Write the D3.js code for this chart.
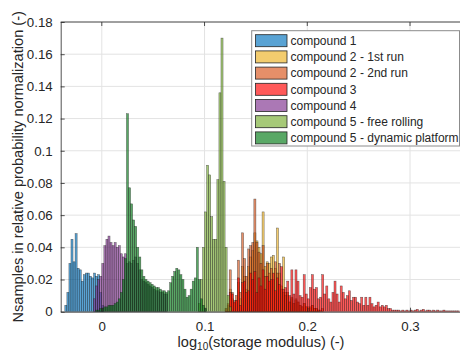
<!DOCTYPE html>
<html><head><meta charset="utf-8">
<script src="https://cdn.jsdelivr.net/npm/d3@7"></script>
<style>
html,body{margin:0;padding:0;background:#fff;}
svg{display:block;font-family:"Liberation Sans",Arial,Helvetica,sans-serif;}
</style></head>
<body><svg id="c" width="460" height="353"></svg>
<script>
// ---- data (histogram bins, width 0.002 in log10 units) ----
const BIN_WIDTH = 0.002;
const seriesNames = ["compound 1","compound 2 - 1st run","compound 2 - 2nd run","compound 3","compound 4","compound 5 - free rolling","compound 5 - dynamic platform"];
const seriesColors = ["#0072bd","#edb120","#d95319","#ff0000","#7e2f8e","#77ac30","#007a14"];

const compound1Start = -0.036;
const compound1 = [0.004,0.012,0.030,0.045,0.031,0.0485,0.027,0.026,0.019,0.023,0.024,0.024,0.022,0.021,0.024,0.022,0.023,0.012,0.004];

const compound2run1Start = 0.120;
const compound2run1 = [0.001,0.002,0.014,0.008,0.005,0.007,0.018,0.008,0.028,0.022,0.014,0.028,0.034,0.038,0.049,0.044,0.040,0.036,0.062,0.028,0.031,0.030,0.034,0.035,0.027,0.052,0.024,0.016,0.034,0.012,0.010,0.006,0.008,0.005,0.007,0.006,0.004,0.003,0.005,0.003,0.003,0.002,0.004,0.002,0.002,0.001];

const compound2run2Start = 0.120;
const compound2run2 = [0.002,0.004,0.026,0.012,0.007,0.010,0.032,0.012,0.049,0.033,0.022,0.039,0.041,0.043,0.070,0.043,0.037,0.030,0.041,0.022,0.030,0.024,0.027,0.020,0.031,0.024,0.030,0.014,0.012,0.010,0.012,0.006,0.009,0.005,0.008,0.006,0.004,0.003,0.005,0.003,0.002,0.003,0.004,0.002,0.002,0.001,0.001,0.002];

const compound3Start = 0.120;
const compound3 = [0.002,0.005,0.012,0.011,0.006,0.007,0.021,0.004,0.018,0.019,0.012,0.013,0.024,0.020,0.025,0.012,0.021,0.016,0.026,0.014,
0.022,0.019,0.020,0.024,0.013,0.021,0.017,0.028,0.014,0.015,0.019,0.010,0.026,0.011,0.026,0.019,0.010,0.009,0.023,0.011,
0.008,0.015,0.023,0.014,0.015,0.008,0.009,0.023,0.011,0.016,0.008,0.006,0.012,0.019,0.011,0.006,0.016,0.012,0.008,0.010,
0.013,0.007,0.009,0.009,0.006,0.005,0.009,0.004,0.009,0.004,0.009,0.005,0.003,0.004,0.006,0.003,0.004,0.003,0.004,0.002,
0.002,0.001,0.001,0.001,0.001,0.0005,0.001,0.0005,0.001,0.0005,0.001,0.0005,0.001,0.0015,0.0005,0.001,0.0015,0.0005,0.001,0.001,
0.0005,0.001,0.0005,0.001,0.0005,0.0005,0.001,0.0005,0.0005,0.0005,0.0005,0.0005,0.0005,0.0005];

const compound4Start = -0.008;
const compound4 = [0.008,0.016,0.020,0.022,0.030,0.041,0.045,0.047,0.043,0.041,0.043,0.040,0.041,0.036,0.034,0.036,0.030,0.031,0.030,0.032,
0.034,0.030,0.026,0.020,0.019,0.018,0.017,0.016,0.015,0.014,0.013,0.013,0.012,0.012,0.011,0.011];

const compound5freeStart = 0.094;
const compound5free = [0.005,0.020,0.040,0.062,0.091,0.085,0.059,0.045,0.045,0.082,0.136,0.170,0.081,0.040,0.010,0.003];

const compound5dynStart = -0.006;
const compound5dyn = [0.001,0.001,0.002,0.002,0.003,0.003,0.004,0.004,0.004,0.005,0.006,0.008,0.012,0.020,0.033,0.123,0.077,0.067,0.057,0.053,
0.040,0.034,0.026,0.022,0.020,0.019,0.018,0.017,0.016,0.015,0.015,0.014,0.013,0.013,0.012,0.013,0.018,0.022,0.025,0.027,
0.026,0.023,0.020,0.014,0.009,0.010,0.014,0.019,0.021,0.040,0.020,0.008,0.004,0.002];

const xTicks = [0, 0.1, 0.2, 0.3];
const xTickLabels = ["0","0.1","0.2","0.3"];
const yTicks = [0,0.02,0.04,0.06,0.08,0.1,0.12,0.14,0.16,0.18];
const yTickLabels = ["0","0.02","0.04","0.06","0.08","0.1","0.12","0.14","0.16","0.18"];

const seriesData = [
  [compound1Start, compound1],
  [compound2run1Start, compound2run1],
  [compound2run2Start, compound2run2],
  [compound3Start, compound3],
  [compound4Start, compound4],
  [compound5freeStart, compound5free],
  [compound5dynStart, compound5dyn]
];

// ---- layout ----
const L = 60.7, R = 461.4, T = 22, B = 311.7;
const svg = d3.select("#c");
const x = d3.scaleLinear().domain([-0.04, 0.35]).range([L, R]);
const y = d3.scaleLinear().domain([0, 0.18]).range([B, T]);

// grid
const grid = svg.append("g");
grid.selectAll(".gx").data(xTicks).join("line")
  .attr("x1", d => x(d)).attr("x2", d => x(d)).attr("y1", T).attr("y2", B)
  .attr("stroke", "#e3e3e3").attr("stroke-width", 1);
grid.selectAll(".gy").data(yTicks).join("line")
  .attr("x1", L).attr("x2", R).attr("y1", d => y(d)).attr("y2", d => y(d))
  .attr("stroke", "#e3e3e3").attr("stroke-width", 1);

// bars
svg.append("clipPath").attr("id","clip").append("rect")
  .attr("x", L).attr("y", T).attr("width", R - L).attr("height", B - T);
const barsG = svg.append("g").attr("clip-path","url(#clip)");
seriesData.forEach(([start, vals], i) => {
  const bins = vals.map((v, k) => ({x0: start + k * BIN_WIDTH, v}));
  barsG.append("g").selectAll("rect").data(bins).join("rect")
    .attr("x", d => x(d.x0))
    .attr("width", d => x(d.x0 + BIN_WIDTH) - x(d.x0))
    .attr("y", d => y(d.v))
    .attr("height", d => y(0) - y(d.v))
    .attr("fill", seriesColors[i]).attr("fill-opacity", 0.65)
    .attr("stroke", "#1a1a1a").attr("stroke-opacity", 0.65).attr("stroke-width", 0.5);
});

// axes
const axisColor = "#262626";
const xAxis = d3.axisBottom(x).tickValues(xTicks).tickFormat((d, i) => xTickLabels[i]).tickSizeInner(-4).tickSizeOuter(0).tickPadding(10);
const gx = svg.append("g").attr("transform", `translate(0,${B})`).call(xAxis);
const yAxis = d3.axisLeft(y).tickValues(yTicks).tickFormat((d, i) => yTickLabels[i]).tickSizeInner(-4).tickSizeOuter(0).tickPadding(8);
const gy = svg.append("g").attr("transform", `translate(${L},0)`).call(yAxis);
[gx, gy].forEach(g => {
  g.select(".domain").attr("stroke", axisColor).attr("stroke-width", 0.8);
  g.selectAll(".tick line").attr("stroke", axisColor).attr("stroke-width", 0.8);
  g.selectAll("text").attr("fill", axisColor).style("font-size", "13.3px").style("font-family", "'Liberation Sans',Arial,sans-serif");
});
// top box line with inward ticks
svg.append("line").attr("x1", L).attr("x2", R).attr("y1", T).attr("y2", T).attr("stroke", axisColor).attr("stroke-width", 0.8);
svg.selectAll(".tt").data(xTicks).join("line")
  .attr("x1", d => x(d)).attr("x2", d => x(d)).attr("y1", T).attr("y2", T + 4)
  .attr("stroke", axisColor).attr("stroke-width", 0.8);

// axis labels
const xl = svg.append("text").attr("x", (L + R) / 2).attr("y", 346.5).attr("text-anchor", "middle")
  .attr("fill", axisColor).style("font-size", "14.6px");
xl.append("tspan").text("log");
xl.append("tspan").attr("dy", 3.5).style("font-size", "10px").text("10");
xl.append("tspan").attr("dy", -3.5).text("(storage modulus) (-)");

svg.append("text").attr("transform", `translate(23,${(T + B) / 2}) rotate(-90)`).attr("text-anchor", "middle")
  .attr("fill", axisColor).style("font-size", "14.6px")
  .text("Nsamples in relative probability normalization (-)");

// legend
const lg = svg.append("g");
lg.append("rect").attr("x", 251.7).attr("y", 30.7).attr("width", 207.8).attr("height", 115.3)
  .attr("fill", "#fff").attr("stroke", "#8c8c8c").attr("stroke-width", 1);
const rowY = k => 40.7 + k * 16.2;
lg.selectAll(".sw").data(seriesNames).join("rect")
  .attr("x", 255.5).attr("y", (d, k) => rowY(k) - 6).attr("width", 31.5).attr("height", 12)
  .attr("fill", (d, k) => seriesColors[k]).attr("fill-opacity", 0.65)
  .attr("stroke", "#262626").attr("stroke-width", 0.8);
lg.selectAll(".lt").data(seriesNames).join("text")
  .attr("x", 290.5).attr("y", (d, k) => rowY(k) + 4.3)
  .attr("fill", axisColor).style("font-size", "12px").text(d => d);
</script>
</body></html>
